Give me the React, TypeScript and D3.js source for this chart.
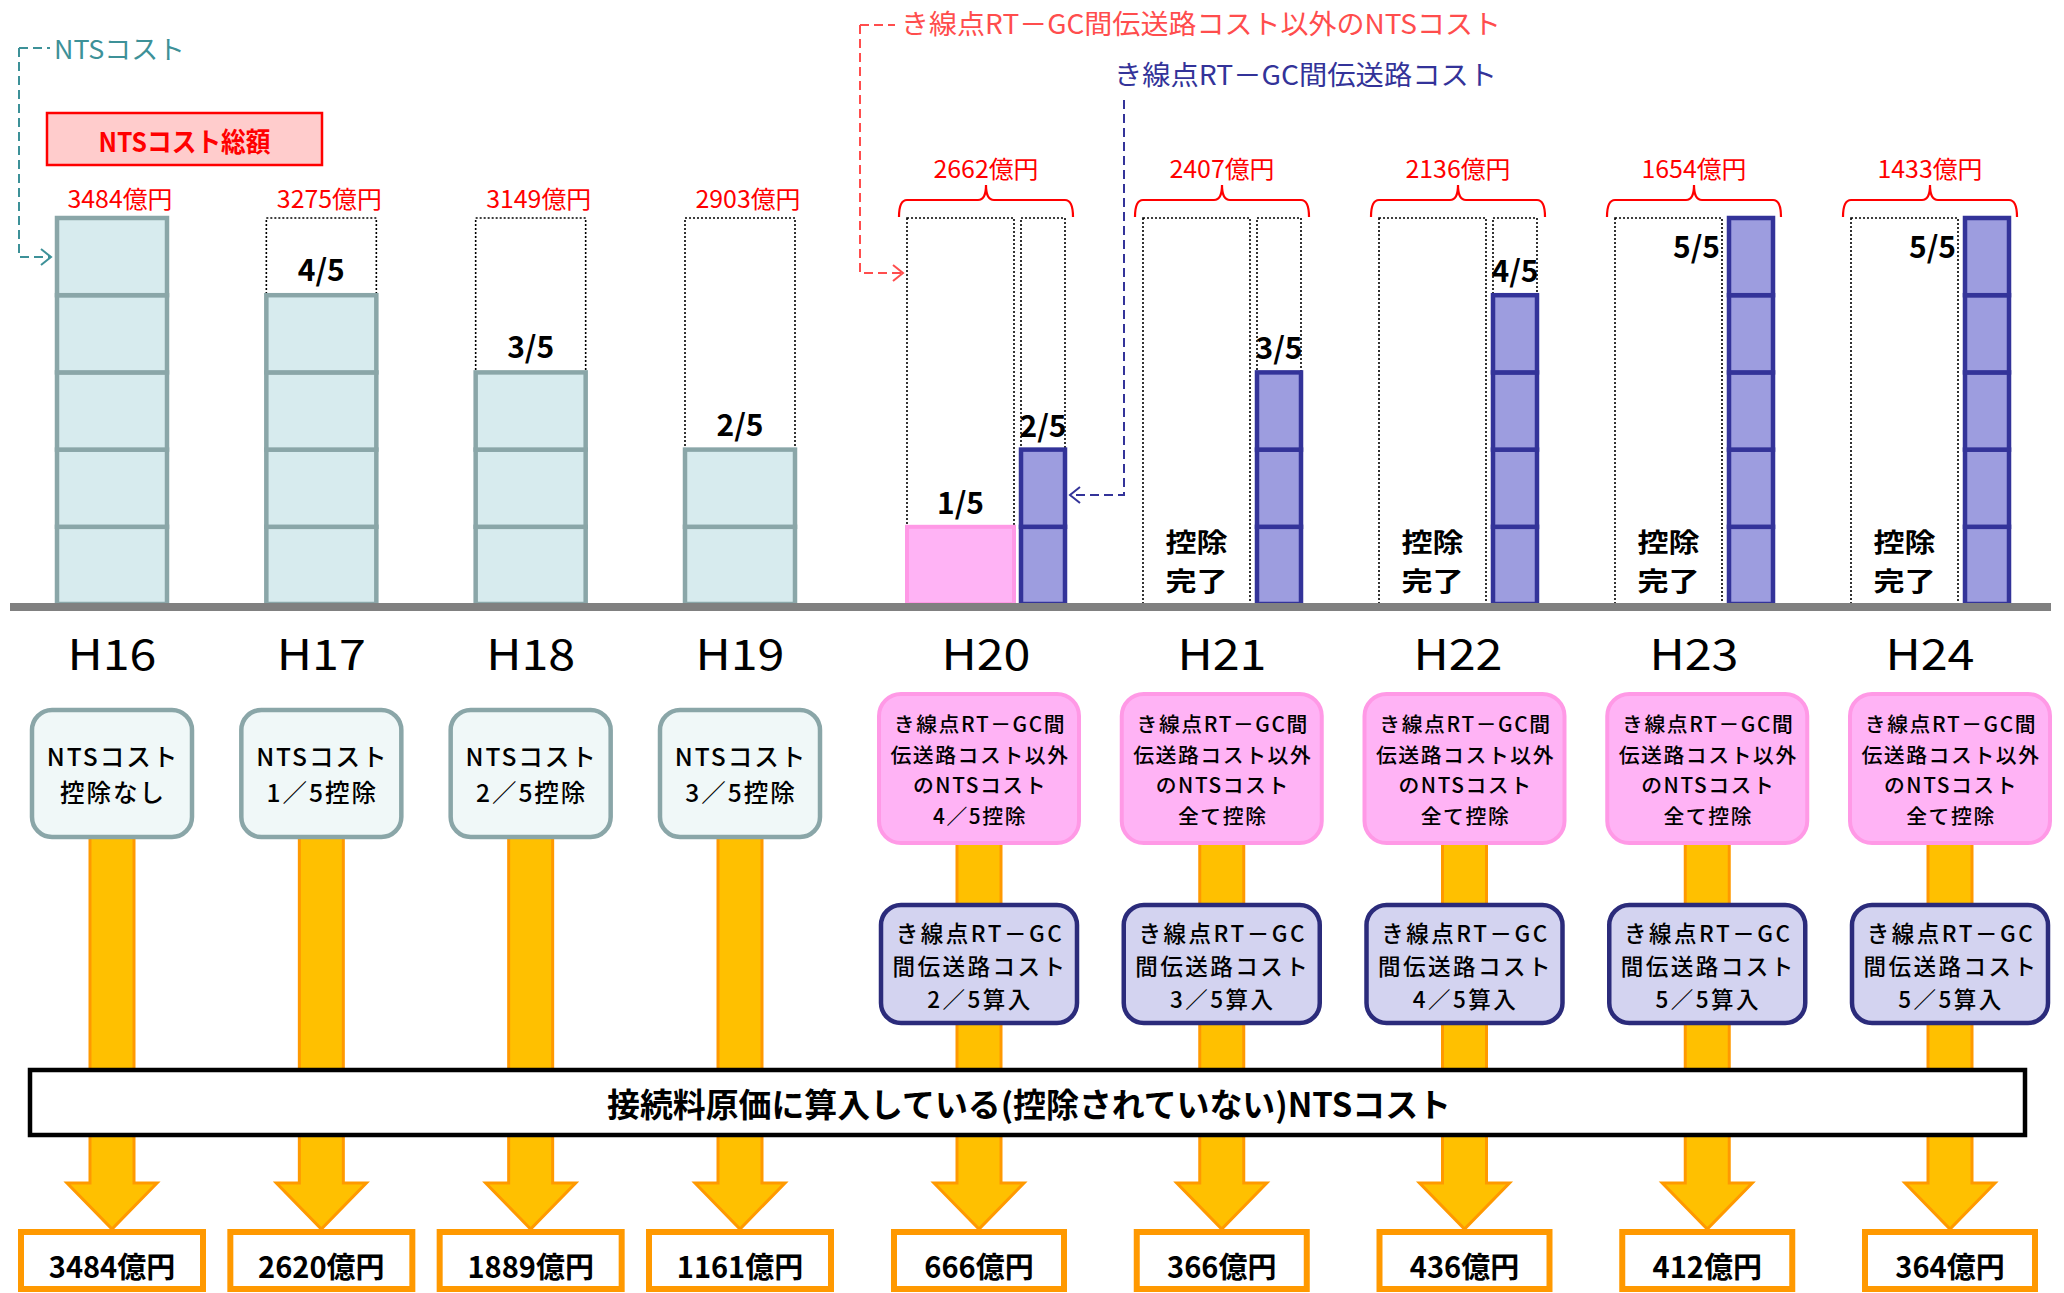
import React from 'react';
import * as d3 from 'd3';

// ---------- data ----------
const phase1Years = ['H16', 'H17', 'H18', 'H19'];
const phase2Years = ['H20', 'H21', 'H22', 'H23', 'H24'];
const phase1Total = [3484, 3275, 3149, 2903];
const phase2Total = [2662, 2407, 2136, 1654, 1433];
const phase1Included = [3484, 2620, 1889, 1161];
const phase2Included = [666, 366, 436, 412, 364];
const phase1IncludedFifths = [5, 4, 3, 2];
const phase2OtherFifths = [1, 0, 0, 0, 0];
const phase2LineFifths = [2, 3, 4, 5, 5];
const phase1Deduction = ['控除なし', '1／5控除', '2／5控除', '3／5控除'];
const phase2OtherDeduction = ['4／5控除', '全て控除', '全て控除', '全て控除', '全て控除'];
const phase2LineInclusion = ['2／5算入', '3／5算入', '4／5算入', '5／5算入', '5／5算入'];
const otherBoxLines = ['き線点RT－GC間', '伝送路コスト以外', 'のNTSコスト'];
const lineBoxLines = ['き線点RT－GC', '間伝送路コスト'];

const FONT = '"Noto Sans CJK JP", "Noto Sans", sans-serif';
const C = {
  teal: '#3d9198',
  ntsFill: '#d7ebee',
  ntsStroke: '#8aa6a8',
  ntsBoxFill: '#f0f8f8',
  pinkFill: '#ffb3f5',
  pinkStroke: '#ff99e6',
  blueFill: '#9d9ddf',
  blueStroke: '#333399',
  blueBoxFill: '#d3d3f0',
  blueBoxStroke: '#2b2b7b',
  orange: '#ffc000',
  orangeDark: '#ff9900',
  red: '#ff0000',
  redAnn: '#ff4d4d',
};

export default function App() {
  const W = 2064;
  const H = 1293;
  const yF = d3.scaleLinear().domain([0, 5]).range([604, 218]);
  const x1 = d3.scalePoint<string>().domain(phase1Years).range([112, 740]);
  const x2Top = d3.scalePoint<string>().domain(phase2Years).range([986, 1930]);
  const x2Bot = d3.scalePoint<string>().domain(phase2Years).range([979, 1950]);

  const arrow = (cx: number, y0: number) => {
    const tip = 1229, headTop = 1183, sw = 22, hw = 45;
    return `M${cx - sw},${y0} L${cx + sw},${y0} L${cx + sw},${headTop} L${cx + hw},${headTop} L${cx},${tip} L${cx - hw},${headTop} L${cx - sw},${headTop} Z`;
  };
  const dotted = { fill: 'none', stroke: '#000', strokeWidth: 1.6, strokeDasharray: '2 2' };
  const segs = (n: number) => d3.range(n).map((k) => ({ k, y: yF(k + 1), h: yF(k) - yF(k + 1) }));

  const h20 = x2Top('H20')!;
  const h20BigLeft = h20 - 79;
  const h20BlueRight = h20 + 35 + 44;

  return (
    <svg width={W} height={H} viewBox={`0 0 ${W} ${H}`} fontFamily={FONT}
      style={{ position: 'absolute', left: 0, top: 0, background: '#fff' }}>
      <rect width={W} height={H} fill="#fff" />

      {/* ---- annotations ---- */}
      <path d="M19,48 H50 M19,48 V257 H50" fill="none" stroke={C.teal} strokeWidth={2} strokeDasharray="9 5" />
      <path d="M41,249 L51,257 L41,265" fill="none" stroke={C.teal} strokeWidth={2} />
      <text x={54} y={47} fontSize={26} fill={C.teal} dominantBaseline="central" textLength={131} lengthAdjust="spacingAndGlyphs">NTSコスト</text>

      <rect x={47} y={113} width={275} height={52} fill="#ffcccc" stroke={C.red} strokeWidth={2.5} />
      <text x={184.5} y={140} fontSize={27} fontWeight="bold" fill={C.red} textAnchor="middle" dominantBaseline="central" textLength={172} lengthAdjust="spacingAndGlyphs">NTSコスト総額</text>

      <path d={`M860,25 H895 M860,25 V273 H${h20BigLeft - 4}`} fill="none" stroke={C.redAnn} strokeWidth={2} strokeDasharray="9 5" />
      <path d={`M${h20BigLeft - 14},265 L${h20BigLeft - 4},273 L${h20BigLeft - 14},281`} fill="none" stroke={C.redAnn} strokeWidth={2} />
      <text x={901} y={22} fontSize={27} fill={C.redAnn} dominantBaseline="central" textLength={600} lengthAdjust="spacingAndGlyphs">き線点RT－GC間伝送路コスト以外のNTSコスト</text>

      <path d={`M1124,100 V495 H${h20BlueRight + 5}`} fill="none" stroke={C.blueStroke} strokeWidth={2} strokeDasharray="9 5" />
      <path d={`M${h20BlueRight + 15},487 L${h20BlueRight + 5},495 L${h20BlueRight + 15},503`} fill="none" stroke={C.blueStroke} strokeWidth={2} />
      <text x={1114} y={73} fontSize={27} fill={C.blueStroke} dominantBaseline="central" textLength={383} lengthAdjust="spacingAndGlyphs">き線点RT－GC間伝送路コスト</text>

      {/* ---- phase 1 bars ---- */}
      {phase1Years.map((yr, i) => {
        const cx = x1(yr)!;
        const n = phase1IncludedFifths[i];
        const x0 = cx - 55;
        return (
          <g key={yr}>
            {n < 5 && <rect x={x0} y={yF(5)} width={110} height={yF(0) - yF(5)} {...dotted} />}
            {segs(n).map((s) => (
              <rect key={s.k} x={x0} y={s.y} width={110} height={s.h} fill={C.ntsFill} stroke={C.ntsStroke} strokeWidth={4.5} />
            ))}
            {n < 5 && (
              <text x={cx} y={yF(n) - 14} fontSize={30} fontWeight="bold" textAnchor="middle" fill="#000">{`${n}/5`}</text>
            )}
            <text x={cx + 8} y={197} fontSize={24} fill={C.red} textAnchor="middle" dominantBaseline="central" textLength={105} lengthAdjust="spacingAndGlyphs">{`${phase1Total[i]}億円`}</text>
            <text x={cx} y={651} fontSize={42} fill="#000" textAnchor="middle" dominantBaseline="central" textLength={89} lengthAdjust="spacingAndGlyphs">{yr}</text>
          </g>
        );
      })}

      {/* ---- phase 2 bars ---- */}
      {phase2Years.map((yr, i) => {
        const cx = x2Top(yr)!;
        const bigX = cx - 79, bigW = 107, blueX = cx + 35, blueW = 44;
        const other = phase2OtherFifths[i];
        const line = phase2LineFifths[i];
        const L = bigX - 8, R = blueX + blueW + 8, by = 200;
        return (
          <g key={yr}>
            <rect x={bigX} y={yF(5)} width={bigW} height={yF(0) - yF(5)} {...dotted} />
            {line < 5 && <rect x={blueX} y={yF(5)} width={blueW} height={yF(0) - yF(5)} {...dotted} />}
            {segs(other).map((s) => (
              <rect key={s.k} x={bigX} y={s.y} width={bigW} height={s.h} fill={C.pinkFill} stroke={C.pinkStroke} strokeWidth={4} />
            ))}
            {segs(line).map((s) => (
              <rect key={s.k} x={blueX} y={s.y} width={blueW} height={s.h} fill={C.blueFill} stroke={C.blueStroke} strokeWidth={4.5} />
            ))}
            {other > 0 ? (
              <text x={bigX + bigW / 2} y={yF(other) - 13} fontSize={30} fontWeight="bold" textAnchor="middle">{`${other}/5`}</text>
            ) : (
              <g fontSize={26} fontWeight="bold" textAnchor="middle">
                <text x={bigX + bigW / 2} y={540} dominantBaseline="central" textLength={62} lengthAdjust="spacingAndGlyphs">控除</text>
                <text x={bigX + bigW / 2} y={579} dominantBaseline="central" textLength={62} lengthAdjust="spacingAndGlyphs">完了</text>
              </g>
            )}
            {line < 5 ? (
              <text x={blueX + blueW / 2} y={yF(line) - 13} fontSize={30} fontWeight="bold" textAnchor="middle">{`${line}/5`}</text>
            ) : (
              <text x={bigX + bigW - 2} y={yF(5) + 40} fontSize={30} fontWeight="bold" textAnchor="end">{`${line}/5`}</text>
            )}
            <path d={`M${L},217 Q${L},${by} ${L + 8},${by} H${cx - 8} Q${cx},${by} ${cx},${by - 15} Q${cx},${by} ${cx + 8},${by} H${R - 8} Q${R},${by} ${R},217`}
              fill="none" stroke={C.red} strokeWidth={2.2} />
            <text x={cx} y={167} fontSize={24} fill={C.red} textAnchor="middle" dominantBaseline="central" textLength={105} lengthAdjust="spacingAndGlyphs">{`${phase2Total[i]}億円`}</text>
            <text x={cx} y={651} fontSize={42} fill="#000" textAnchor="middle" dominantBaseline="central" textLength={89} lengthAdjust="spacingAndGlyphs">{yr}</text>
          </g>
        );
      })}

      {/* baseline */}
      <rect x={10} y={603} width={2041} height={8} fill="#808080" />

      {/* ---- arrows ---- */}
      {phase1Years.map((yr) => (
        <path key={yr} d={arrow(x1(yr)!, 830)} fill={C.orange} stroke={C.orangeDark} strokeWidth={3} />
      ))}
      {phase2Years.map((yr) => (
        <path key={yr} d={arrow(x2Bot(yr)!, 836)} fill={C.orange} stroke={C.orangeDark} strokeWidth={3} />
      ))}

      {/* ---- phase 1 boxes ---- */}
      {phase1Years.map((yr, i) => {
        const cx = x1(yr)!;
        return (
          <g key={yr}>
            <rect x={cx - 80} y={710} width={160} height={127} rx={20} fill={C.ntsBoxFill} stroke={C.ntsStroke} strokeWidth={4.5} />
            <g fontSize={24.5} fontWeight={500} textAnchor="middle" letterSpacing={2}>
              <text x={cx + 1} y={755} dominantBaseline="central">NTSコスト</text>
              <text x={cx + 1} y={791} dominantBaseline="central">{phase1Deduction[i]}</text>
            </g>
          </g>
        );
      })}

      {/* ---- phase 2 boxes ---- */}
      {phase2Years.map((yr, i) => {
        const cx = x2Bot(yr)!;
        const pinkLines = [...otherBoxLines, phase2OtherDeduction[i]];
        const blueLines = [...lineBoxLines, phase2LineInclusion[i]];
        return (
          <g key={yr}>
            <rect x={cx - 100} y={694} width={200} height={149} rx={22} fill={C.pinkFill} stroke={C.pinkStroke} strokeWidth={4} />
            <g fontSize={20.8} fontWeight={500} textAnchor="middle" letterSpacing={1.6}>
              {pinkLines.map((t, k) => (
                <text key={k} x={cx + 1} y={723 + k * 30.5} dominantBaseline="central">{t}</text>
              ))}
            </g>
            <rect x={cx - 98} y={905} width={196} height={118} rx={20} fill={C.blueBoxFill} stroke={C.blueBoxStroke} strokeWidth={4.5} />
            <g fontSize={22.5} fontWeight={500} textAnchor="middle" letterSpacing={2.5}>
              {blueLines.map((t, k) => (
                <text key={k} x={cx + 1} y={932 + k * 33} dominantBaseline="central">{t}</text>
              ))}
            </g>
          </g>
        );
      })}

      {/* ---- banner ---- */}
      <rect x={30} y={1070} width={1995} height={65} fill="#fff" stroke="#000" strokeWidth={4.5} />
      <text x={1029} y={1103} fontSize={33} fontWeight="bold" textAnchor="middle" dominantBaseline="central" textLength={844} lengthAdjust="spacingAndGlyphs">接続料原価に算入している(控除されていない)NTSコスト</text>

      {/* ---- bottom values ---- */}
      {phase1Years.map((yr, i) => {
        const cx = x1(yr)!;
        return (
          <g key={yr}>
            <rect x={cx - 91} y={1232} width={182} height={57} fill="#fff" stroke={C.orangeDark} strokeWidth={6} />
            <text x={cx} y={1265} fontSize={29} fontWeight="bold" textAnchor="middle" dominantBaseline="central">{`${phase1Included[i]}億円`}</text>
          </g>
        );
      })}
      {phase2Years.map((yr, i) => {
        const cx = x2Bot(yr)!;
        return (
          <g key={yr}>
            <rect x={cx - 85} y={1232} width={170} height={57} fill="#fff" stroke={C.orangeDark} strokeWidth={6} />
            <text x={cx} y={1265} fontSize={29} fontWeight="bold" textAnchor="middle" dominantBaseline="central">{`${phase2Included[i]}億円`}</text>
          </g>
        );
      })}
    </svg>
  );
}
